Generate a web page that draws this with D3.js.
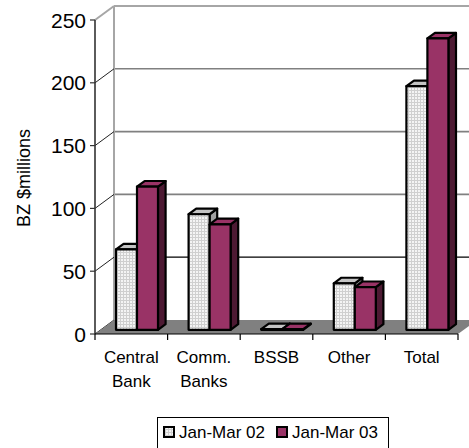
<!DOCTYPE html>
<html>
<head>
<meta charset="utf-8">
<script src="https://cdn.jsdelivr.net/npm/d3@7"></script>
<style>
  html, body { margin: 0; padding: 0; background: #fff; }
  svg { display: block; font-family: "Liberation Sans", Arial, sans-serif; }
</style>
</head>
<body>
<svg id="chart" width="469" height="448"></svg>
<script>
// Deposits by holder, BZ $millions
const categories = ["Central Bank", "Comm. Banks", "BSSB", "Other", "Total"];
const categoryLines = [["Central", "Bank"], ["Comm.", "Banks"], ["BSSB"], ["Other"], ["Total"]];
const seriesNames = ["Jan-Mar 02", "Jan-Mar 03"];
const valuesJanMar02 = [64, 92, 0.5, 37, 194];
const valuesJanMar03 = [114, 84, 0.5, 34, 232];
const yTicks = [0, 50, 100, 150, 200, 250];

const svg = d3.select("#chart");

// pseudo-3D depth of the plot box and of the bars within it
const DX = 19, DY = -14;
const barFront = 0.3, barBack = 0.7;

const x = d3.scaleBand().domain(categories).range([95, 458]).padding(0);
const groupW = 42;
const xs = d3.scaleBand().domain(seriesNames).range([0, groupW]).padding(0);
const y = d3.scaleLinear().domain([0, 250]).range([334, 20]);

const x0 = x.range()[0], x1 = x.range()[1];

// light dotted fill for the first series
const defs = svg.append("defs");
const pat = defs.append("pattern").attr("id", "dots")
  .attr("width", 3).attr("height", 3).attr("patternUnits", "userSpaceOnUse");
pat.append("rect").attr("width", 3).attr("height", 3).attr("fill", "#f4f4f4");
pat.append("rect").attr("width", 3).attr("height", 1).attr("fill", "#cfcfcf");
pat.append("rect").attr("width", 1).attr("height", 3).attr("fill", "#cfcfcf");

// back wall gridlines
svg.append("g").selectAll("line").data(yTicks.slice(1, -1)).join("line")
  .attr("x1", x0 + DX).attr("x2", 469)
  .attr("y1", d => y(d) + DY).attr("y2", d => y(d) + DY)
  .attr("stroke", d => d === 50 ? "#000" : "#808080")
  .attr("stroke-width", d => d === 50 ? 1.2 : 1.6);

// top edge of back wall
svg.append("line").attr("x1", x0 + DX).attr("x2", 469)
  .attr("y1", y(250) + DY).attr("y2", y(250) + DY)
  .attr("stroke", "#a6a6a6").attr("stroke-width", 2);

// side wall: back edge and diagonal grid lines
svg.append("line").attr("x1", x0 + DX).attr("x2", x0 + DX)
  .attr("y1", y(250) + DY).attr("y2", y(0) + DY)
  .attr("stroke", "#a6a6a6").attr("stroke-width", 2);
svg.append("g").selectAll("line").data(yTicks).join("line")
  .attr("x1", x0).attr("x2", x0 + DX)
  .attr("y1", d => y(d)).attr("y2", d => y(d) + DY)
  .attr("stroke", d => d === 250 ? "#a6a6a6" : "#222")
  .attr("stroke-width", d => d === 250 ? 2 : 1);

// floor
svg.append("path")
  .attr("d", `M${x0},${y(0)}L${x1},${y(0)}L${x1 + DX},${y(0) + DY}L${x0 + DX},${y(0) + DY}Z`)
  .attr("fill", "#808080");

// value axis
svg.append("line").attr("x1", x0).attr("x2", x0).attr("y1", y(250)).attr("y2", y(0))
  .attr("stroke", "#333").attr("stroke-width", 1.6);
const yAxis = svg.append("g");
yAxis.selectAll("line").data(yTicks).join("line")
  .attr("x1", x0 - 5).attr("x2", x0).attr("y1", d => y(d)).attr("y2", d => y(d))
  .attr("stroke", "#333").attr("stroke-width", 1.2);
yAxis.selectAll("text").data(yTicks).join("text")
  .attr("x", x0 - 9).attr("y", d => y(d)).attr("dy", "0.36em")
  .attr("text-anchor", "end").attr("font-size", 21).attr("fill", "#000")
  .text(d => d);

svg.append("text")
  .attr("transform", "translate(24,178) rotate(-90)")
  .attr("text-anchor", "middle").attr("dominant-baseline", "central")
  .attr("font-size", 18).text("BZ $millions");

// 3D bars
const fdx = DX * barFront, fdy = DY * barFront;
const bdx = DX * (barBack - barFront), bdy = DY * (barBack - barFront);
const styles = {
  "Jan-Mar 02": { front: "url(#dots)", top: "#c4c4c4", side: "#a0a0a0" },
  "Jan-Mar 03": { front: "#993366", top: "#993366", side: "#4d1a33" }
};
const bars = [];
categories.forEach((c, i) => {
  bars.push({ c, s: seriesNames[0], v: valuesJanMar02[i] });
  bars.push({ c, s: seriesNames[1], v: valuesJanMar03[i] });
});
const barG = svg.append("g");
bars.forEach(b => {
  const left = x(b.c) + (x.bandwidth() - groupW) / 2 + xs(b.s) + fdx;
  const w = xs.bandwidth();
  const bot = y(0) + fdy;
  const top = y(b.v) + fdy;
  const st = styles[b.s];
  const g = barG.append("g").attr("stroke", "#000").attr("stroke-width", 2.2)
    .attr("stroke-linejoin", "round");
  g.append("path")
    .attr("d", `M${left + w},${bot}L${left + w + bdx},${bot + bdy}L${left + w + bdx},${top + bdy}L${left + w},${top}Z`)
    .attr("fill", st.side);
  g.append("path")
    .attr("d", `M${left},${top}L${left + w},${top}L${left + w + bdx},${top + bdy}L${left + bdx},${top + bdy}Z`)
    .attr("fill", st.top);
  g.append("rect").attr("x", left).attr("y", top).attr("width", w).attr("height", bot - top)
    .attr("fill", st.front);
});

// category axis
svg.append("line").attr("x1", x0).attr("x2", x1).attr("y1", y(0)).attr("y2", y(0))
  .attr("stroke", "#000").attr("stroke-width", 1.2);
const bounds = categories.map(c => x(c)).concat([x1]);
svg.append("g").selectAll("line").data(bounds).join("line")
  .attr("x1", d => d).attr("x2", d => d).attr("y1", y(0)).attr("y2", y(0) + 6)
  .attr("stroke", "#000").attr("stroke-width", 1.2);
const catText = svg.append("g").selectAll("text").data(categories).join("text")
  .attr("x", d => x(d) + x.bandwidth() / 2).attr("y", 363)
  .attr("text-anchor", "middle").attr("font-size", 17);
catText.each(function(d, i) {
  d3.select(this).selectAll("tspan").data(categoryLines[i]).join("tspan")
    .attr("x", x(d) + x.bandwidth() / 2)
    .attr("dy", (t, j) => j === 0 ? 0 : 24)
    .text(t => t);
});

// legend
const leg = svg.append("g");
leg.append("rect").attr("x", 157.5).attr("y", 417.5).attr("width", 231).attr("height", 40)
  .attr("fill", "#fff").attr("stroke", "#000").attr("stroke-width", 1);
const legX = [164, 277];
seriesNames.forEach((s, i) => {
  leg.append("rect").attr("x", legX[i]).attr("y", 427).attr("width", 10).attr("height", 10)
    .attr("fill", styles[s].front).attr("stroke", "#000").attr("stroke-width", 2);
  leg.append("text").attr("x", legX[i] + 15).attr("y", 438).attr("font-size", 17).text(s);
});
</script>
</body>
</html>
